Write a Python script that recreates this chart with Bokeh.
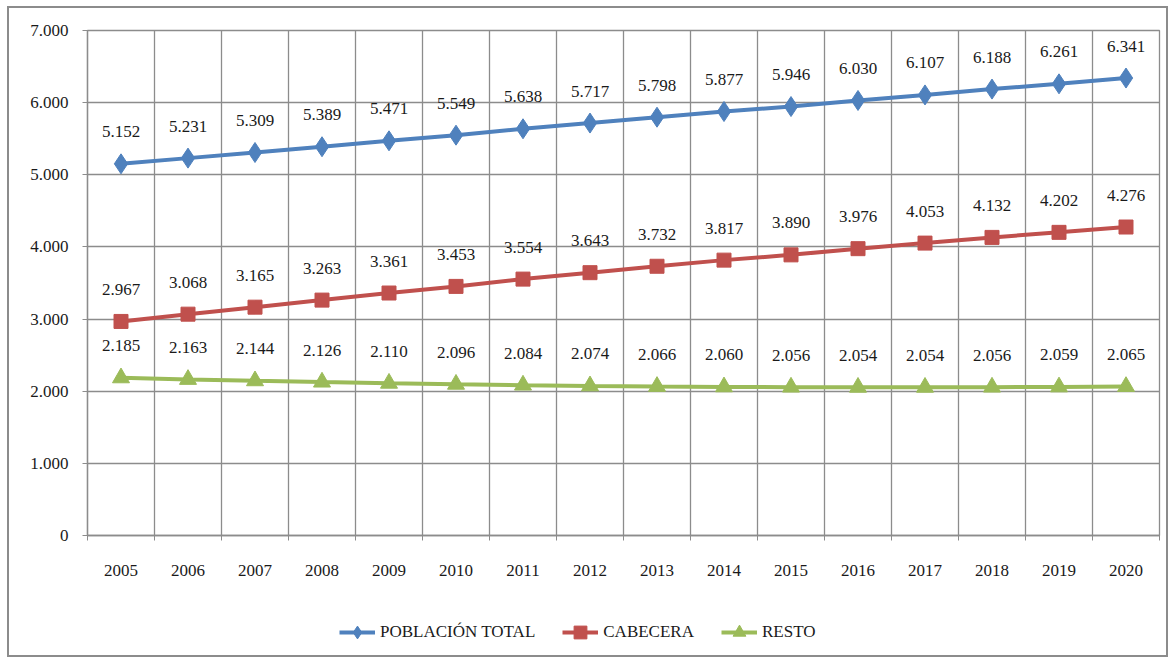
from bokeh.plotting import figure
from bokeh.layouts import column
from bokeh.models import FixedTicker, Range1d, Legend, LegendItem, ColumnDataSource
from bokeh.core.properties import value
from bokeh.embed import file_html
from bokeh.resources import INLINE

years = ["2005", "2006", "2007", "2008", "2009", "2010", "2011", "2012",
         "2013", "2014", "2015", "2016", "2017", "2018", "2019", "2020"]
poblacion_total = [5152, 5231, 5309, 5389, 5471, 5549, 5638, 5717,
                   5798, 5877, 5946, 6030, 6107, 6188, 6261, 6341]
cabecera = [2967, 3068, 3165, 3263, 3361, 3453, 3554, 3643,
            3732, 3817, 3890, 3976, 4053, 4132, 4202, 4276]
resto = [2185, 2163, 2144, 2126, 2110, 2096, 2084, 2074,
         2066, 2060, 2056, 2054, 2054, 2056, 2059, 2065]
y_ticks = [0, 1000, 2000, 3000, 4000, 5000, 6000, 7000]
y_tick_labels = ["0", "1.000", "2.000", "3.000", "4.000", "5.000", "6.000", "7.000"]
series_names = ["POBLACIÓN TOTAL", "CABECERA", "RESTO"]
series_colors = ["#4F81BD", "#C0504D", "#9BBB59"]
series_markers = ["diamond", "square", "triangle"]
marker_sizes = [20, 14, 17]

FONT = "Liberation Serif"
GRID = "#8c8c8c"

def fmt(v):
    return f"{v:,}".replace(",", ".")

xs = list(range(len(years)))
p = figure(frame_width=1072, frame_height=505, output_backend="svg", toolbar_location=None,
           x_range=Range1d(-0.5, len(years) - 0.5), y_range=Range1d(0, 7000),
           min_border_left=78, min_border_top=22, min_border_right=7, min_border_bottom=62)
p.background_fill_color = "white"
p.border_fill_color = "white"
p.outline_line_color = GRID
p.outline_line_width = 1.3

boundaries = [i - 0.5 for i in range(len(years) + 1)]
p.xaxis.ticker = FixedTicker(ticks=xs, minor_ticks=boundaries)
p.xaxis.major_label_overrides = {i: y for i, y in enumerate(years)}
p.xaxis.major_tick_line_color = None
p.xaxis.major_tick_out = 0
p.xaxis.minor_tick_line_color = GRID
p.xaxis.minor_tick_out = 5
p.xaxis.minor_tick_in = 0
p.xaxis.major_label_standoff = 24
p.xgrid.ticker = FixedTicker(ticks=boundaries)

p.yaxis.ticker = FixedTicker(ticks=y_ticks)
p.yaxis.major_label_overrides = {t: l for t, l in zip(y_ticks, y_tick_labels)}
p.yaxis.minor_tick_line_color = None
p.yaxis.major_tick_out = 5
p.yaxis.major_tick_in = 0
p.yaxis.major_tick_line_color = GRID
p.yaxis.major_label_standoff = 14

for ax in (p.xaxis, p.yaxis):
    ax.axis_line_color = GRID
    ax.axis_line_width = 1.3
    ax.major_label_text_font = FONT
    ax.major_label_text_font_size = "17px"
    ax.major_label_text_color = "#1a1a1a"

for g in (p.xgrid, p.ygrid):
    g.grid_line_color = GRID
    g.grid_line_width = 1.3

# legend figure (its renderers share the series data but fall outside its 0..1 ranges)
pl = figure(width=1157, height=58, output_backend="svg", toolbar_location=None,
            x_range=Range1d(0, 1), y_range=Range1d(0, 1), min_border=0,
            x_axis_location=None, y_axis_location=None)
pl.grid.visible = False
pl.outline_line_color = None
pl.background_fill_color = "white"
pl.border_fill_color = "white"

items = []
for name, vals, col, mk, ms in zip(series_names, [poblacion_total, cabecera, resto],
                                   series_colors, series_markers, marker_sizes):
    src = ColumnDataSource(dict(x=xs, y=vals, lab=[fmt(v) for v in vals]))
    p.line("x", "y", source=src, line_color=col, line_width=4)
    p.scatter("x", "y", source=src, marker=mk, size=ms, fill_color=col, line_color=col)
    p.text("x", "y", text="lab", source=src, text_font=value(FONT), text_font_size="17px",
           text_align="center", text_baseline="middle", y_offset=-32, text_color="#1a1a1a")
    l1 = pl.line("x", "y", source=src, line_color=col, line_width=4)
    l2 = pl.scatter("x", "y", source=src, marker=mk, size=ms,
                    fill_color=col, line_color=col)
    items.append(LegendItem(label=name, renderers=[l1, l2]))

legend = Legend(items=items, orientation="horizontal", location=(252, 7),
                label_text_font=FONT, label_text_font_size="17px", label_text_color="#1a1a1a",
                glyph_width=36, glyph_height=32, spacing=27, border_line_color=None,
                background_fill_alpha=0, label_standoff=5, margin=0, padding=6)
pl.add_layout(legend)

layout = column(p, pl, spacing=0,
                styles={"border": "2px solid #8c8c8c", "margin-left": "7px",
                        "margin-top": "6px"})

open("out.html", "w").write(file_html(layout, INLINE))
